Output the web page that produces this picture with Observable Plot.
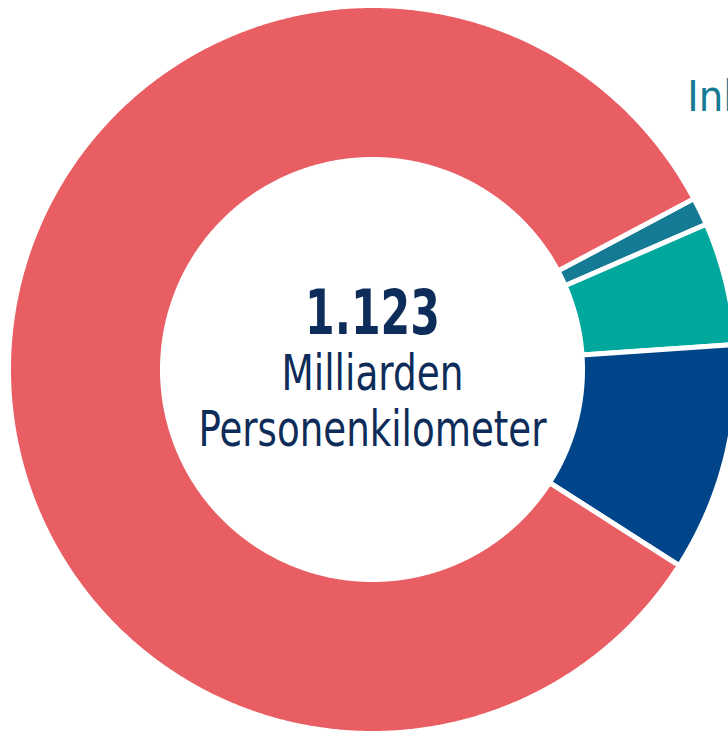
<!DOCTYPE html>
<html>
<head>
<meta charset="utf-8">
<script src="https://cdn.jsdelivr.net/npm/d3@7"></script>
<script src="https://cdn.jsdelivr.net/npm/@observablehq/plot@0.6"></script>
<style>
  html, body { margin: 0; padding: 0; background: #fff; overflow: hidden; }
  #chart svg { display: block; }
</style>
</head>
<body>
<div id="chart"></div>
<script>
// Data (Milliarden Personenkilometer)
const categories = ["Inlandsflugverkehr", "Öffentlicher Straßenpersonenverkehr", "Eisenbahnverkehr", "Motorisierter Individualverkehr"];
const values = [14, 61, 114, 934];
const colors = ["#157a93", "#00a79d", "#004589", "#e95e63"];
const totalLabel = "1.123";
const unitLines = ["Milliarden", "Personenkilometer"];
const sliceLabels = ["Inlandsflugverkehr"];

// Layout
const W = 728, H = 736;
const cx = 372, cy = 369, R = 364;          // pixel centre and outer radius
const innerRatio = 210 / 364;
const startDeg = 62;
const font = "'Liberation Sans Narrow', 'DejaVu Sans Condensed', 'Roboto Condensed', sans-serif";
const navy = "#0d2c59";

const pie = d3.pie().sort(null).startAngle(startDeg * Math.PI / 180).endAngle(startDeg * Math.PI / 180 + 2 * Math.PI);
const arcs = pie(values);

// Polygon vertices for each slice (angle clockwise from 12 o'clock, y up)
const pts = [];
arcs.forEach((a, i) => {
  const n = Math.max(8, Math.ceil((a.endAngle - a.startAngle) / 0.005));
  for (let k = 0; k <= n; k++) {
    const t = a.startAngle + (a.endAngle - a.startAngle) * k / n;
    pts.push({cat: categories[i], x: Math.sin(t), y: Math.cos(t)});
  }
  for (let k = n; k >= 0; k--) {
    const t = a.startAngle + (a.endAngle - a.startAngle) * k / n;
    pts.push({cat: categories[i], x: innerRatio * Math.sin(t), y: innerRatio * Math.cos(t)});
  }
});

const labelData = sliceLabels.map(name => {
  const i = categories.indexOf(name);
  const mid = (arcs[i].startAngle + arcs[i].endAngle) / 2;
  return {name, color: colors[i], x: Math.sin(mid), y: Math.cos(mid)};
});

const plot = Plot.plot({
  width: W, height: H,
  margin: 0,
  x: {domain: [-cx / R, (W - cx) / R], axis: null},
  y: {domain: [-(H - cy) / R, cy / R], axis: null},
  color: {domain: categories, range: colors},
  style: {fontFamily: font, background: "#fff", overflow: "hidden"},
  marks: [
    Plot.line(pts, {x: "x", y: "y", z: "cat", fill: "cat", stroke: "#fff", strokeWidth: 5, curve: "linear-closed"}),
    Plot.text([totalLabel], {x: () => 0, y: () => 0, text: d => d, fontSize: 63, fontWeight: "bold", fill: navy, dy: -56, textAnchor: "middle", className: "ctr-total"}),
    Plot.text([unitLines[0]], {x: () => 0, y: () => 0, text: d => d, fontSize: 50, fill: navy, dy: 4, textAnchor: "middle", className: "ctr-l1"}),
    Plot.text([unitLines[1]], {x: () => 0, y: () => 0, text: d => d, fontSize: 49, fill: navy, dy: 61, textAnchor: "middle", className: "ctr-l2"}),
    Plot.text(labelData, {x: "x", y: "y", text: "name", fill: d => d.color, fontSize: 43, textAnchor: "start", dx: -13, dy: -114})
  ]
});
// Condense the centre texts to the reference widths (narrow typeface)
const fit = {"ctr-total": 135, "ctr-l1": 182, "ctr-l2": 348};
for (const [cls, len] of Object.entries(fit)) {
  d3.select(plot).selectAll("." + cls + " text")
    .attr("textLength", len)
    .attr("lengthAdjust", "spacingAndGlyphs");
}
document.getElementById("chart").append(plot);
</script>
</body>
</html>
